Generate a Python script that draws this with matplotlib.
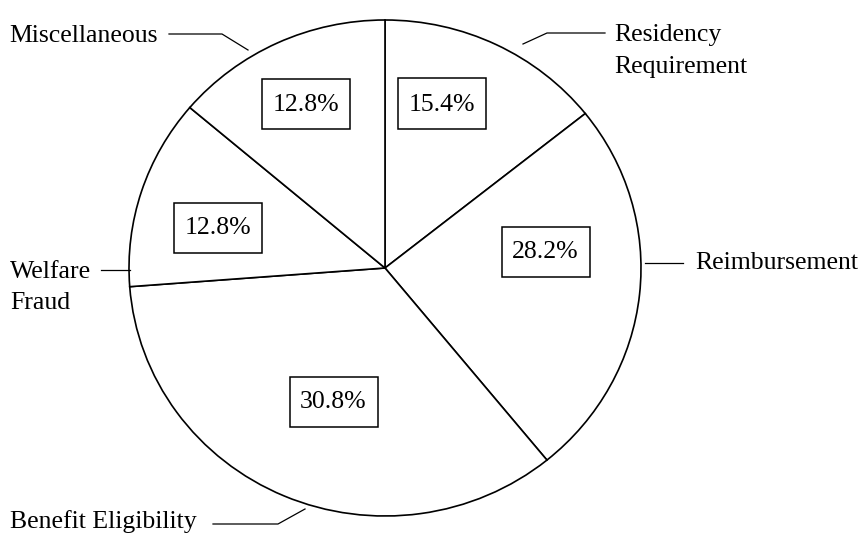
import matplotlib.pyplot as plt
from matplotlib.patches import Rectangle

# slice shares as drawn (angles) and the printed labels
categories = ['Residency\nRequirement', 'Reimbursement', 'Benefit Eligibility',
              'Welfare\nFraud', 'Miscellaneous']
shares = [14.3, 24.8, 34.7, 12.4, 13.8]
pct_labels = ['15.4%', '28.2%', '30.8%', '12.8%', '12.8%']

plt.rcParams['font.family'] = ['Liberation Serif', 'DejaVu Serif']

W, H = 860, 536
sy = 256 / 248  # pie is a little wider than tall in the reference


def P(x, y):
    # pixel position -> data coords
    return x, (H - y) * sy


fig = plt.figure(figsize=(8.6, 5.36), dpi=100)
ax = fig.add_axes([0, 0, 1, 1])

ax.pie(shares, center=P(385, 268), radius=256, startangle=90, counterclock=False,
       colors=['white'] * len(shares),
       wedgeprops=dict(edgecolor='black', linewidth=1.2))
ax.set_aspect('auto')
ax.set_xlim(0, W)
ax.set_ylim(0, H * sy)
ax.axis('off')

fs = 18.5

# percentage boxes
box_pos = [(442, 103.5), (545.5, 251.5), (333.5, 401.5), (217.5, 227.5), (305.5, 104)]
for (cx, cy), t in zip(box_pos, pct_labels):
    x0, y0 = P(cx - 44, cy + 25)
    ax.add_patch(Rectangle((x0, y0), 88, 50 * sy, facecolor='white',
                           edgecolor='black', linewidth=1.1, zorder=3))
    ax.text(*P(cx, cy + 1), t, fontsize=fs, ha='center', va='center', zorder=4)

# category labels with leader lines
label_pos = [(614, 41.5), (695, 269), (10, 528), (10, 277.5), (9, 42)]
leaders = [
    [(523, 44), (547, 33), (605, 33)],
    [(645, 263), (683, 263)],
    [(305, 509), (278, 524), (213, 524)],
    [(130, 270), (101, 270)],
    [(248, 50), (222, 34), (169, 34)],
]
for (lx, ly), name, pts in zip(label_pos, categories, leaders):
    for i, line in enumerate(name.split('\n')):
        ax.text(*P(lx, ly + i * 31.7), line, fontsize=fs, ha='left', va='baseline')
    xs = [P(*p)[0] for p in pts]
    ys = [P(*p)[1] for p in pts]
    ax.plot(xs, ys, color='black', linewidth=0.9)

plt.savefig('out.png', dpi=100)
plt.close('all')
